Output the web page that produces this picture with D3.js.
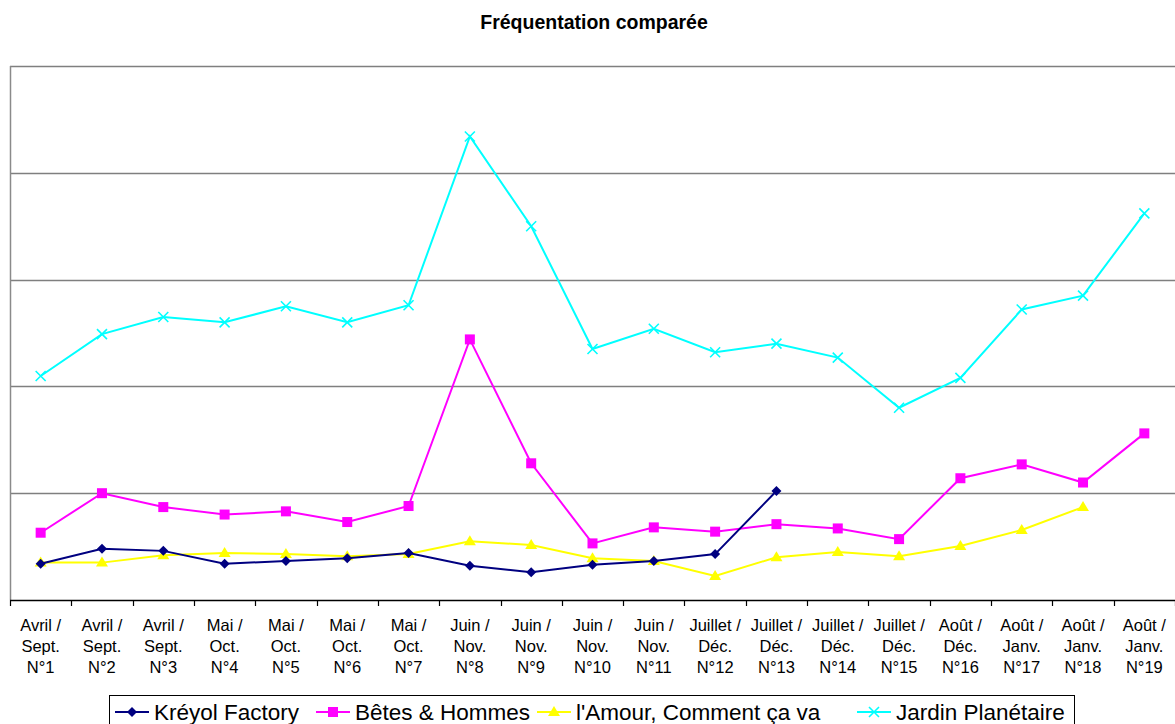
<!DOCTYPE html>
<html><head><meta charset="utf-8">
<script src="https://cdn.jsdelivr.net/npm/d3@7"></script>
<style>body{margin:0;background:#fff}svg{display:block;font-family:"Liberation Sans",Arial,sans-serif}</style>
</head><body><svg id="c" width="1175" height="724"></svg>
<script>
const categories = [
 ["Avril /","Sept.","N°1"],["Avril /","Sept.","N°2"],["Avril /","Sept.","N°3"],
 ["Mai /","Oct.","N°4"],["Mai /","Oct.","N°5"],["Mai /","Oct.","N°6"],["Mai /","Oct.","N°7"],
 ["Juin /","Nov.","N°8"],["Juin /","Nov.","N°9"],["Juin /","Nov.","N°10"],["Juin /","Nov.","N°11"],
 ["Juillet /","Déc.","N°12"],["Juillet /","Déc.","N°13"],["Juillet /","Déc.","N°14"],["Juillet /","Déc.","N°15"],
 ["Août /","Déc.","N°16"],["Août /","Janv.","N°17"],["Août /","Janv.","N°18"],["Août /","Janv.","N°19"]
];
const kreyol = [34,48,46,34,36.5,39,44,32,26,33,36.5,43,102,null,null,null,null,null,null];
const betes = [63,100,87,80,83,73,88,244,128,53,68,64,71,67,57,114,127,110,156];
const amour = [35,35,42,44,43,41,43,55,51.5,39,36.5,22.5,40,45,41,50.5,65.5,87,null];
const jardin = [209.7,249,265,260,275,260,276,434,350,235,254,232,240,227,180,208,272,285,362];
const yTicks = [0,100,200,300,400,500];
const seriesNames = ["Kréyol Factory","Bêtes & Hommes","l'Amour, Comment ça va","Jardin Planétaire"];

const svg = d3.select("#c");
const L=10,R=1175,T=66,B=600;
const x = d3.scaleBand().domain(d3.range(categories.length)).range([L,R]).paddingInner(0).paddingOuter(0);
const y = d3.scaleLinear().domain([0,500]).range([B,T]);

svg.append("text").attr("x",594).attr("y",29).attr("text-anchor","middle")
 .attr("font-size",19.5).attr("font-weight","bold").text("Fréquentation comparée");

// gridlines
svg.append("g").selectAll("line").data(yTicks.slice(1)).join("line")
 .attr("x1",L).attr("x2",R).attr("y1",d=>Math.round(y(d))+0.5).attr("y2",d=>Math.round(y(d))+0.5)
 .attr("stroke","#7f7f7f").attr("stroke-width",1.5);
// left axis
svg.append("line").attr("x1",L+0.5).attr("x2",L+0.5).attr("y1",T).attr("y2",B).attr("stroke","#8a8a8a").attr("stroke-width",1.5);
// bottom axis
const bx = svg.append("g");
bx.append("line").attr("x1",L).attr("x2",R).attr("y1",B+0.5).attr("y2",B+0.5).attr("stroke","#000").attr("stroke-width",1.3);
bx.selectAll("line.t").data(d3.range(categories.length+1)).join("line").attr("class","t")
 .attr("x1",i=>Math.round(L+i*x.bandwidth())+0.5).attr("x2",i=>Math.round(L+i*x.bandwidth())+0.5)
 .attr("y1",B).attr("y2",B+6).attr("stroke","#000").attr("stroke-width",1.2);
categories.forEach((c,i)=>{
  const t = bx.append("text").attr("text-anchor","middle").attr("font-size",16.5).attr("fill","#000");
  c.forEach((s,k)=>t.append("tspan").attr("x",x(i)+x.bandwidth()/2).attr("y",631+k*21).text(s));
});

const cx = i=>x(i)+x.bandwidth()/2;
const line = d3.line().defined(d=>d!=null).x((d,i)=>cx(i)).y(d=>y(d));

function marker(g,type,color,px,py){
  if(type==="diamond") g.append("path").attr("d",`M${px},${py-5}L${px+5},${py}L${px},${py+5}L${px-5},${py}Z`).attr("fill",color);
  else if(type==="square") g.append("rect").attr("x",px-5).attr("y",py-5).attr("width",10).attr("height",10).attr("fill",color);
  else if(type==="triangle") g.append("path").attr("d",`M${px},${py-6}L${px+6},${py+4}L${px-6},${py+4}Z`).attr("fill",color);
  else g.append("path").attr("d",`M${px-5},${py-5}L${px+5},${py+5}M${px+5},${py-5}L${px-5},${py+5}`).attr("stroke",color).attr("stroke-width",1.6);
}
const series = [
 {name:seriesNames[0],data:kreyol,color:"#000080",m:"diamond"},
 {name:seriesNames[1],data:betes,color:"#ff00ff",m:"square"},
 {name:seriesNames[2],data:amour,color:"#ffff00",m:"triangle"},
 {name:seriesNames[3],data:jardin,color:"#00ffff",m:"x"}
];
[...series].reverse().forEach(s=>{
  const g = svg.append("g");
  g.append("path").attr("d",line(s.data)).attr("fill","none").attr("stroke",s.color).attr("stroke-width",2);
  s.data.forEach((v,i)=>{ if(v!=null) marker(g,s.m,s.color,cx(i),y(v)); });
});

// legend
const lg = svg.append("g");
lg.append("rect").attr("x",109.5).attr("y",695.5).attr("width",965).attr("height",40).attr("fill","#fff").attr("stroke","#000").attr("stroke-width",1);
const lx = [115,316,537,857];
series.forEach((s,i)=>{
  const g = lg.append("g");
  g.append("line").attr("x1",lx[i]).attr("x2",lx[i]+34).attr("y1",712).attr("y2",712).attr("stroke",s.color).attr("stroke-width",2);
  marker(g,s.m,s.color,lx[i]+17,712);
  g.append("text").attr("x",lx[i]+39).attr("y",720).attr("font-size",22.5).text(s.name);
});
</script></body></html>
